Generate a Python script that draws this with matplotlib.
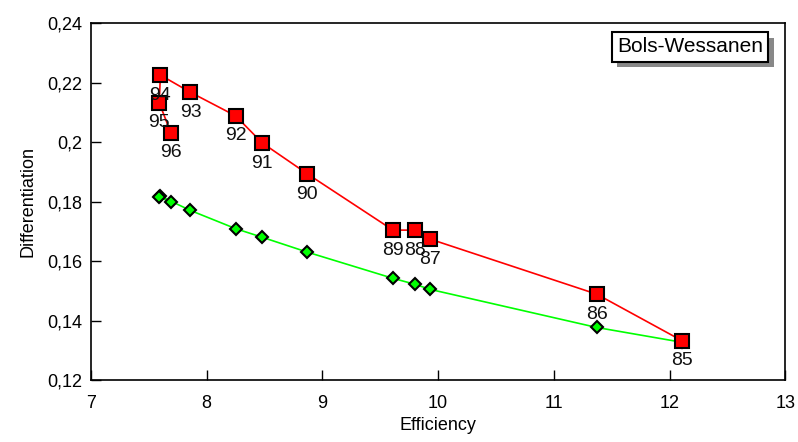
import matplotlib
matplotlib.use('Agg')
import matplotlib.pyplot as plt
import matplotlib.patheffects as pe

plt.rcParams['font.family'] = ['Liberation Sans', 'DejaVu Sans']

# data
years = ['85', '86', '87', '88', '89', '90', '91', '92', '93', '94', '95', '96']
efficiency = [12.11, 11.37, 9.93, 9.80, 9.61, 8.87, 8.48, 8.25, 7.86, 7.60, 7.59, 7.69]
diff_red = [0.1332, 0.1489, 0.1674, 0.1704, 0.1704, 0.1893, 0.1997, 0.2088, 0.2167, 0.2225, 0.2132, 0.2031]
diff_green = [0.1327, 0.1377, 0.1505, 0.1522, 0.1542, 0.1630, 0.1680, 0.1709, 0.1770, 0.1818, 0.1816, 0.1797]

xticks = [7, 8, 9, 10, 11, 12, 13]
yticks = [0.12, 0.14, 0.16, 0.18, 0.20, 0.22, 0.24]
ytick_labels = ['0,12', '0,14', '0,16', '0,18', '0,2', '0,22', '0,24']

fig = plt.figure(figsize=(7.98, 4.42), dpi=100)
ax = fig.add_axes([0.114, 0.140, 0.870, 0.808])

ax.plot(efficiency, diff_green, color='#00ff00', lw=1.2, marker='D', ms=6.5,
        mfc='#00ff00', mec='black', mew=1.5, zorder=3)
ax.plot(efficiency, diff_red, color='#ff0000', lw=1.2, marker='s', ms=9.5,
        mfc='#ff0000', mec='black', mew=1.5, zorder=4)

for x, y, lab in zip(efficiency, diff_red, years):
    ax.annotate(lab, (x, y), xytext=(0, -14.5), textcoords='offset points',
                ha='center', va='center', fontsize=14, color='#111111', zorder=5)

ax.set_xlim(7, 13)
ax.set_ylim(0.12, 0.24)
ax.set_xticks(xticks)
ax.set_xticklabels([str(t) for t in xticks])
ax.set_yticks(yticks)
ax.set_yticklabels(ytick_labels)
ax.tick_params(direction='in', length=7, width=1, labelsize=13, pad=6)
ax.tick_params(axis='x', pad=11)
for s in ax.spines.values():
    s.set_linewidth(1.2)

ax.set_xlabel('Efficiency', fontsize=13, labelpad=3)
ax.set_ylabel('Differentiation', fontsize=13, labelpad=8)

t = ax.text(0.863, 0.933, 'Bols-Wessanen', transform=ax.transAxes,
            ha='center', va='center', fontsize=15, zorder=6,
            bbox=dict(boxstyle='square,pad=0.25', fc='white', ec='black', lw=1.5))
t.get_bbox_patch().set_path_effects([
    pe.SimplePatchShadow(offset=(4, -4), shadow_rgbFace='#888888', alpha=1),
    pe.Normal()])

fig.savefig('out.png', dpi=100)
